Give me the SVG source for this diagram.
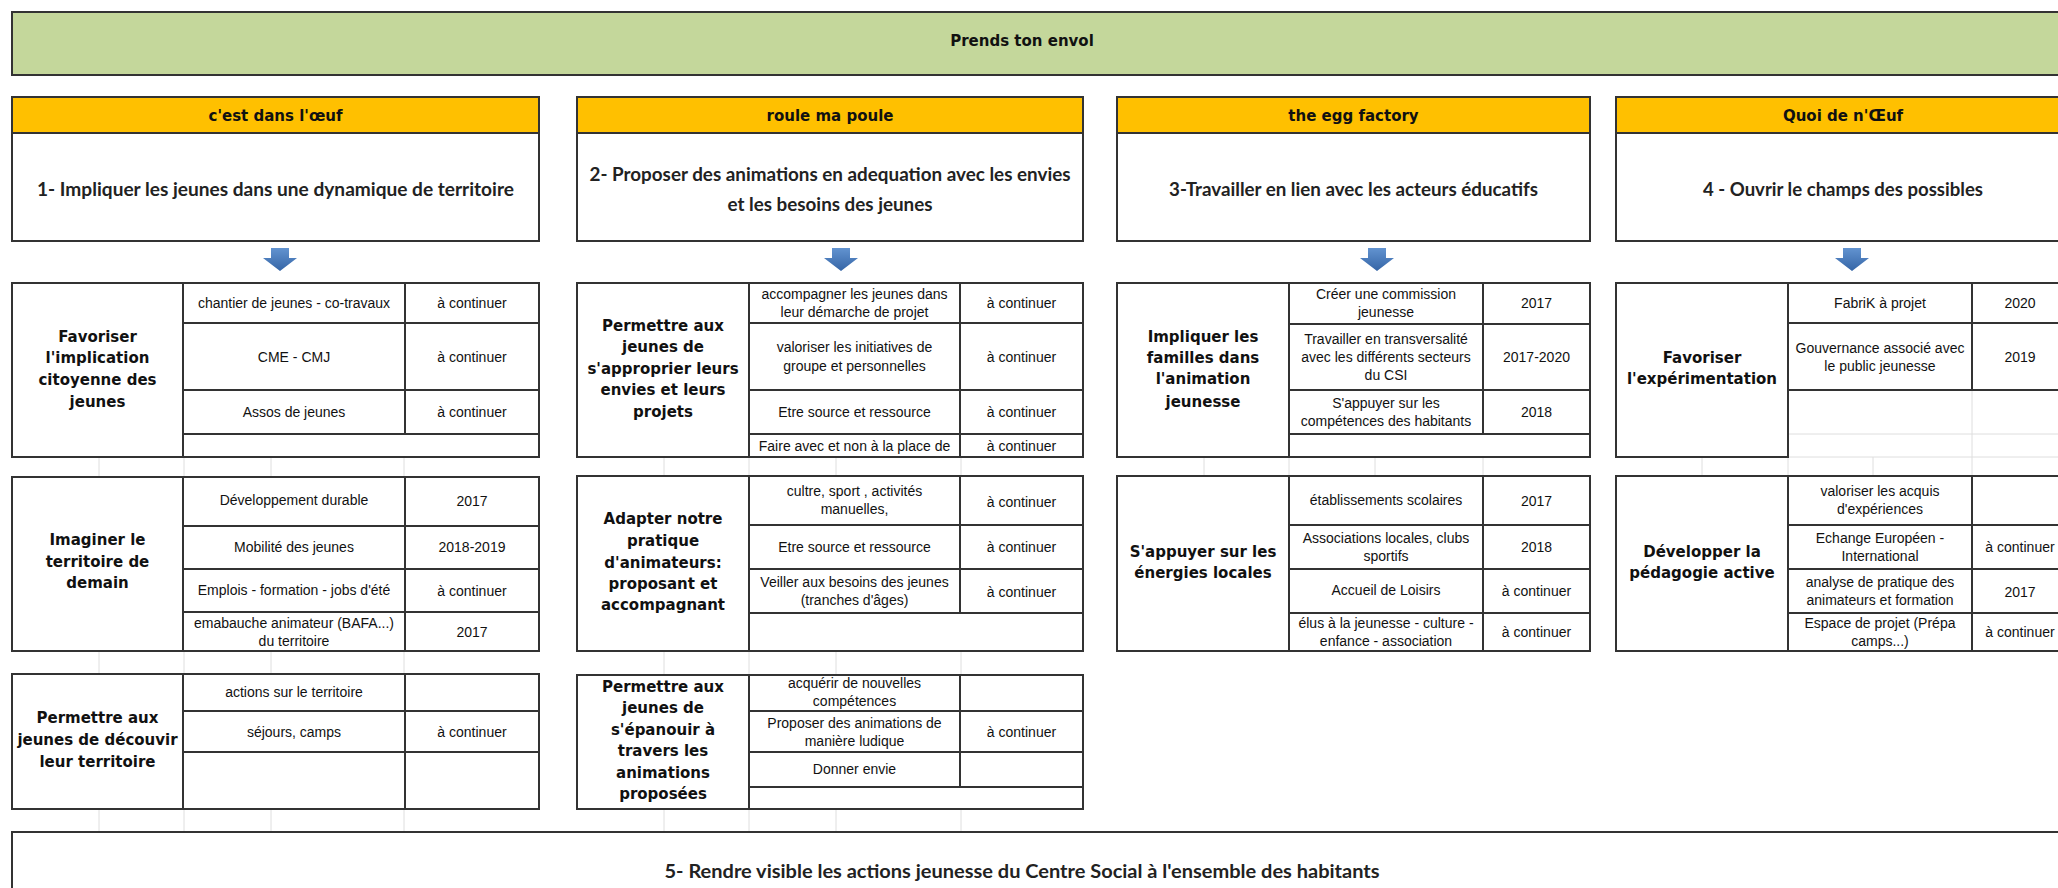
<svg xmlns="http://www.w3.org/2000/svg" width="2058" height="888" viewBox="0 0 2058 888">
<defs>
<linearGradient id="ag" x1="0" y1="0" x2="0" y2="1">
<stop offset="0" stop-color="#6293d0"/>
<stop offset="1" stop-color="#3565a6"/>
</linearGradient>
<style>
.bx{fill:#fff;stroke:#333;stroke-width:2}
.ln{stroke:#333;stroke-width:2;fill:none}
.gr{stroke:#dedede;stroke-width:1;fill:none}
.or{fill:#ffc000;stroke:#333;stroke-width:2}
.gn{fill:#c4d79b;stroke:#333;stroke-width:2}
.hd{font-family:"DejaVu Sans",sans-serif;font-weight:bold;font-size:15px;fill:#111;text-anchor:middle;dominant-baseline:central}
.lb{font-family:"DejaVu Sans",sans-serif;font-weight:bold;font-size:15px;fill:#111;text-anchor:middle;dominant-baseline:central}
.big{font-family:Lato,"Liberation Sans",sans-serif;font-weight:bold;font-size:19px;fill:#222;text-anchor:middle;dominant-baseline:central}
.t{font-family:"Liberation Sans",Arial,sans-serif;font-size:14px;fill:#111;text-anchor:middle;dominant-baseline:central}
.ar{fill:url(#ag)}
</style>
</defs>
<rect width="2058" height="888" fill="#fff"/>

<g id="grid">
<path class="gr" d="M99 457V477M184 457V477M271 457V477M404 457V477M99 651V674M184 651V674M271 651V674M404 651V674M99 809V832M184 809V832M271 809V832M404 809V832"/>
<path class="gr" d="M664 457V476M749 457V476M836 457V476M961 457V476M664 651V675M749 651V675M836 651V675M961 651V675M664 809V832M749 809V832M836 809V832M961 809V832"/>
<path class="gr" d="M1204 457V476M1289 457V476M1375 457V476M1483 457V476M1702 457V476M1788 457V476M1873 457V476M1972 457V476"/>
<path class="gr" d="M1972 390V457M1788 434H2058M1788 457H2058"/>
</g>

<g id="title">
<rect class="gn" x="12" y="12" width="2070" height="63"/>
<text class="hd" x="1022" y="41">Prends ton envol</text>
</g>

<g id="section1-header">
<rect class="or" x="12" y="97" width="527" height="36"/>
<text class="hd" x="275.5" y="116">c'est dans l'œuf</text>
<rect class="bx" x="12" y="133" width="527" height="108"/>
<text class="big" x="275.5" y="188" textLength="477" lengthAdjust="spacingAndGlyphs">1- Impliquer les jeunes dans une dynamique de territoire</text>
</g>
<g id="section2-header">
<rect class="or" x="577" y="97" width="506" height="36"/>
<text class="hd" x="830" y="116">roule ma poule</text>
<rect class="bx" x="577" y="133" width="506" height="108"/>
<text class="big" x="830" y="173" textLength="481" lengthAdjust="spacingAndGlyphs">2- Proposer des animations en adequation avec les envies</text>
<text class="big" x="830" y="203" textLength="205" lengthAdjust="spacingAndGlyphs">et les besoins des jeunes</text>
</g>
<g id="section3-header">
<rect class="or" x="1117" y="97" width="473" height="36"/>
<text class="hd" x="1353.5" y="116">the egg factory</text>
<rect class="bx" x="1117" y="133" width="473" height="108"/>
<text class="big" x="1353.5" y="188" textLength="369" lengthAdjust="spacingAndGlyphs">3-Travailler en lien avec les acteurs éducatifs</text>
</g>
<g id="section4-header">
<rect class="or" x="1616" y="97" width="453" height="36"/>
<text class="hd" x="1843" y="116">Quoi de n'Œuf</text>
<rect class="bx" x="1616" y="133" width="453" height="108"/>
<text class="big" x="1843" y="188" textLength="280" lengthAdjust="spacingAndGlyphs">4 - Ouvrir le champs des possibles</text>
</g>

<g id="connectors">
<path class="ar" d="M271 248H289V258H297L280 271L263 258H271Z"/>
<path class="ar" d="M832 248H850V258H858L841 271L824 258H832Z"/>
<path class="ar" d="M1368 248H1386V258H1394L1377 271L1360 258H1368Z"/>
<path class="ar" d="M1843 248H1861V258H1869L1852 271L1835 258H1843Z"/>
</g>

<g id="s1-table-a">
<rect class="bx" x="12" y="283" width="527" height="174"/>
<path class="ln" d="M183 283V457M405 283V434M183 323H539M183 390H539M183 434H539"/>
<text class="lb" x="97.5" y="337">Favoriser</text>
<text class="lb" x="97.5" y="358">l'implication</text>
<text class="lb" x="97.5" y="380">citoyenne des</text>
<text class="lb" x="97.5" y="402">jeunes</text>
<text class="t" x="294" y="303">chantier de jeunes - co-travaux</text>
<text class="t" x="472" y="303">à continuer</text>
<text class="t" x="294" y="357">CME - CMJ</text>
<text class="t" x="472" y="357">à continuer</text>
<text class="t" x="294" y="412">Assos de jeunes</text>
<text class="t" x="472" y="412">à continuer</text>
</g>

<g id="s1-table-b">
<rect class="bx" x="12" y="477" width="527" height="174"/>
<path class="ln" d="M183 477V651M405 477V651M183 526H539M183 569H539M183 612H539"/>
<text class="lb" x="97.5" y="540">Imaginer le</text>
<text class="lb" x="97.5" y="562">territoire de</text>
<text class="lb" x="97.5" y="583">demain</text>
<text class="t" x="294" y="500">Développement durable</text>
<text class="t" x="472" y="501">2017</text>
<text class="t" x="294" y="547">Mobilité des jeunes</text>
<text class="t" x="472" y="547">2018-2019</text>
<text class="t" x="294" y="590">Emplois - formation - jobs d'été</text>
<text class="t" x="472" y="591">à continuer</text>
<text class="t" x="294" y="623">emabauche animateur (BAFA...)</text>
<text class="t" x="294" y="641">du territoire</text>
<text class="t" x="472" y="632">2017</text>
</g>

<g id="s1-table-c">
<rect class="bx" x="12" y="674" width="527" height="135"/>
<path class="ln" d="M183 674V809M405 674V809M183 711H539M183 752H539"/>
<text class="lb" x="97.5" y="718">Permettre aux</text>
<text class="lb" x="97.5" y="740">jeunes de découvir</text>
<text class="lb" x="97.5" y="762">leur territoire</text>
<text class="t" x="294" y="692">actions sur le territoire</text>
<text class="t" x="294" y="732">séjours, camps</text>
<text class="t" x="472" y="732">à continuer</text>
</g>

<g id="s2-table-a">
<rect class="bx" x="577" y="283" width="506" height="174"/>
<path class="ln" d="M749 283V457M960 283V457M749 323H1083M749 390H1083M749 434H1083"/>
<text class="lb" x="663" y="326">Permettre aux</text>
<text class="lb" x="663" y="347">jeunes de</text>
<text class="lb" x="663" y="369">s'approprier leurs</text>
<text class="lb" x="663" y="390">envies et leurs</text>
<text class="lb" x="663" y="412">projets</text>
<text class="t" x="854.5" y="294">accompagner les jeunes dans</text>
<text class="t" x="854.5" y="312">leur démarche de projet</text>
<text class="t" x="1021.5" y="303">à continuer</text>
<text class="t" x="854.5" y="347">valoriser les initiatives de</text>
<text class="t" x="854.5" y="366">groupe et personnelles</text>
<text class="t" x="1021.5" y="357">à continuer</text>
<text class="t" x="854.5" y="412">Etre source et ressource</text>
<text class="t" x="1021.5" y="412">à continuer</text>
<text class="t" x="854.5" y="446">Faire avec et non à la place de</text>
<text class="t" x="1021.5" y="446">à continuer</text>
</g>

<g id="s2-table-b">
<rect class="bx" x="577" y="476" width="506" height="175"/>
<path class="ln" d="M749 476V651M960 476V613M749 525H1083M749 569H1083M749 613H1083"/>
<text class="lb" x="663" y="519">Adapter notre</text>
<text class="lb" x="663" y="541">pratique</text>
<text class="lb" x="663" y="563">d'animateurs:</text>
<text class="lb" x="663" y="584">proposant et</text>
<text class="lb" x="663" y="605">accompagnant</text>
<text class="t" x="854.5" y="491">cultre, sport , activités</text>
<text class="t" x="854.5" y="509">manuelles,</text>
<text class="t" x="1021.5" y="502">à continuer</text>
<text class="t" x="854.5" y="547">Etre source et ressource</text>
<text class="t" x="1021.5" y="547">à continuer</text>
<text class="t" x="854.5" y="582">Veiller aux besoins des jeunes</text>
<text class="t" x="854.5" y="600">(tranches d'âges)</text>
<text class="t" x="1021.5" y="592">à continuer</text>
</g>

<g id="s2-table-c">
<rect class="bx" x="577" y="675" width="506" height="134"/>
<path class="ln" d="M749 675V809M960 675V787M749 711H1083M749 752H1083M749 787H1083"/>
<text class="lb" x="663" y="687">Permettre aux</text>
<text class="lb" x="663" y="708">jeunes de</text>
<text class="lb" x="663" y="730">s'épanouir à</text>
<text class="lb" x="663" y="751">travers les</text>
<text class="lb" x="663" y="773">animations</text>
<text class="lb" x="663" y="794">proposées</text>
<text class="t" x="854.5" y="683">acquérir de nouvelles</text>
<text class="t" x="854.5" y="701">compétences</text>
<text class="t" x="854.5" y="723">Proposer des animations de</text>
<text class="t" x="854.5" y="741">manière ludique</text>
<text class="t" x="1021.5" y="732">à continuer</text>
<text class="t" x="854.5" y="769">Donner envie</text>
</g>

<g id="s3-table-a">
<rect class="bx" x="1117" y="283" width="473" height="174"/>
<path class="ln" d="M1289 283V457M1483 283V434M1289 324H1590M1289 390H1590M1289 434H1590"/>
<text class="lb" x="1203" y="337">Impliquer les</text>
<text class="lb" x="1203" y="358">familles dans</text>
<text class="lb" x="1203" y="379">l'animation</text>
<text class="lb" x="1203" y="402">jeunesse</text>
<text class="t" x="1386" y="294">Créer une commission</text>
<text class="t" x="1386" y="312">jeunesse</text>
<text class="t" x="1536.5" y="303">2017</text>
<text class="t" x="1386" y="339">Travailler en transversalité</text>
<text class="t" x="1386" y="357">avec les différents secteurs</text>
<text class="t" x="1386" y="375">du CSI</text>
<text class="t" x="1536.5" y="357">2017-2020</text>
<text class="t" x="1386" y="403">S'appuyer sur les</text>
<text class="t" x="1386" y="421">compétences des habitants</text>
<text class="t" x="1536.5" y="412">2018</text>
</g>

<g id="s3-table-b">
<rect class="bx" x="1117" y="476" width="473" height="175"/>
<path class="ln" d="M1289 476V651M1483 476V651M1289 525H1590M1289 569H1590M1289 613H1590"/>
<text class="lb" x="1203" y="552">S'appuyer sur les</text>
<text class="lb" x="1203" y="573">énergies locales</text>
<text class="t" x="1386" y="500">établissements scolaires</text>
<text class="t" x="1536.5" y="501">2017</text>
<text class="t" x="1386" y="538">Associations locales, clubs</text>
<text class="t" x="1386" y="556">sportifs</text>
<text class="t" x="1536.5" y="547">2018</text>
<text class="t" x="1386" y="590">Accueil de Loisirs</text>
<text class="t" x="1536.5" y="591">à continuer</text>
<text class="t" x="1386" y="623">élus à la jeunesse - culture -</text>
<text class="t" x="1386" y="641">enfance - association</text>
<text class="t" x="1536.5" y="632">à continuer</text>
</g>

<g id="s4-table-a">
<rect class="bx" x="1616" y="283" width="172" height="174"/>
<rect class="bx" x="1788" y="283" width="290" height="107"/>
<path class="ln" d="M1972 283V390M1788 323H2078"/>
<text class="lb" x="1702" y="358">Favoriser</text>
<text class="lb" x="1702" y="379">l'expérimentation</text>
<text class="t" x="1880" y="303">FabriK à projet</text>
<text class="t" x="2020" y="303">2020</text>
<text class="t" x="1880" y="348">Gouvernance associé avec</text>
<text class="t" x="1880" y="366">le public jeunesse</text>
<text class="t" x="2020" y="357">2019</text>
</g>

<g id="s4-table-b">
<rect class="bx" x="1616" y="476" width="452" height="175"/>
<path class="ln" d="M1788 476V651M1972 476V651M1788 525H2068M1788 569H2068M1788 613H2068"/>
<text class="lb" x="1702" y="552">Développer la</text>
<text class="lb" x="1702" y="573">pédagogie active</text>
<text class="t" x="1880" y="491">valoriser les acquis</text>
<text class="t" x="1880" y="509">d'expériences</text>
<text class="t" x="1880" y="538">Echange Européen -</text>
<text class="t" x="1880" y="556">International</text>
<text class="t" x="2020" y="547">à continuer</text>
<text class="t" x="1880" y="582">analyse de pratique des</text>
<text class="t" x="1880" y="600">animateurs et formation</text>
<text class="t" x="2020" y="592">2017</text>
<text class="t" x="1880" y="623">Espace de projet (Prépa</text>
<text class="t" x="1880" y="641">camps...)</text>
<text class="t" x="2020" y="632">à continuer</text>
</g>

<g id="section5">
<rect class="bx" x="12" y="832" width="2070" height="80"/>
<text class="big" x="1022" y="870" textLength="715" lengthAdjust="spacingAndGlyphs">5- Rendre visible les actions jeunesse du Centre Social à l'ensemble des habitants</text>
</g>
</svg>
